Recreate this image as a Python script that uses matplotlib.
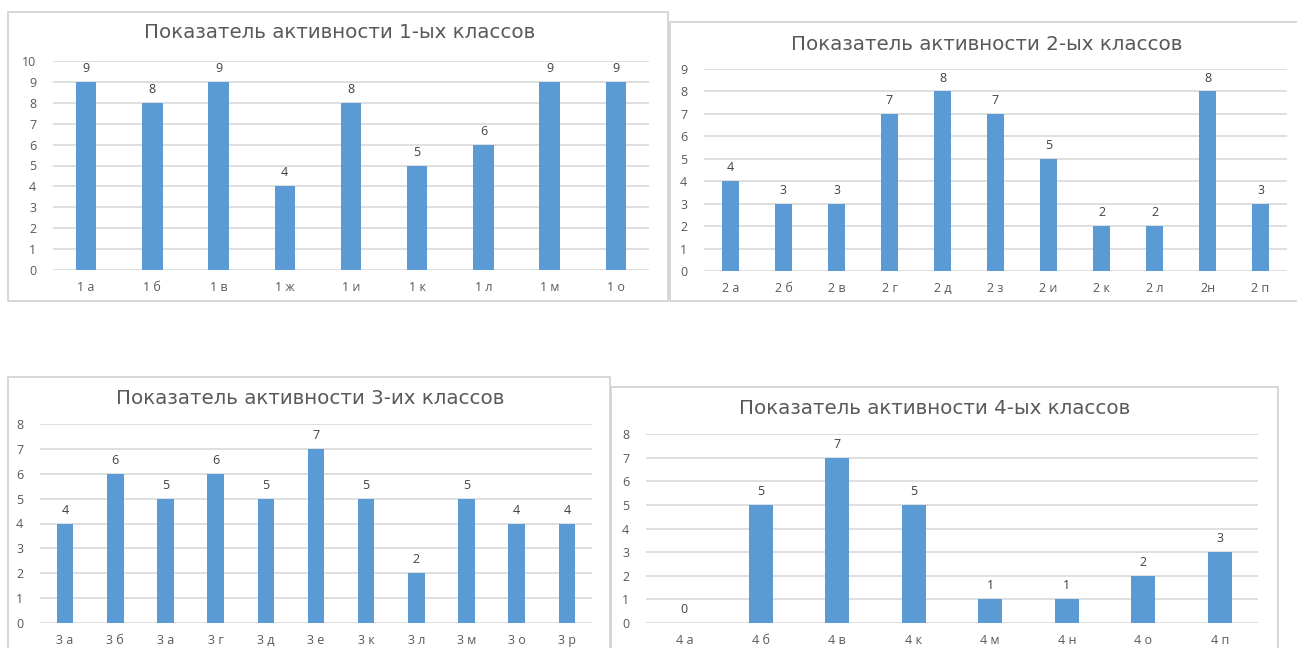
import matplotlib
matplotlib.use("Agg")
import matplotlib.pyplot as plt
from matplotlib.patches import Rectangle

plt.rcParams['font.family'] = ['Open Sans', 'DejaVu Sans']

# ---- data ----
title1 = "Показатель активности 1-ых классов"
cats1 = ["1 а", "1 б", "1 в", "1 ж", "1 и", "1 к", "1 л", "1 м", "1 о"]
vals1 = [9, 8, 9, 4, 8, 5, 6, 9, 9]

title2 = "Показатель активности 2-ых классов"
cats2 = ["2 а", "2 б", "2 в", "2 г", "2 д", "2 з", "2 и", "2 к", "2 л", "2н", "2 п"]
vals2 = [4, 3, 3, 7, 8, 7, 5, 2, 2, 8, 3]

title3 = "Показатель активности 3-их классов"
cats3 = ["3 а", "3 б", "3 а", "3 г", "3 д", "3 е", "3 к", "3 л", "3 м", "3 о", "3 р"]
vals3 = [4, 6, 5, 6, 5, 7, 5, 2, 5, 4, 4]

title4 = "Показатель активности 4-ых классов"
cats4 = ["4 а", "4 б", "4 в", "4 к", "4 м", "4 н", "4 о", "4 п"]
vals4 = [0, 5, 7, 5, 1, 1, 2, 3]

W, H = 1297, 648
fig = plt.figure(figsize=(W / 100, H / 100), dpi=100)
fig.patch.set_facecolor("white")

BAR = "#5B9BD5"
GRID = "#D9D9D9"
TXT = "#595959"


def px_rect(x0, y0, x1, y1):
    return [x0 / W, 1 - y1 / H, (x1 - x0) / W, (y1 - y0) / H]


def chart(border, plot, ymax, cats, vals, title, title_xy, bw):
    bx0, by0, bx1, by1 = border
    fig.patches.append(Rectangle((bx0 / W, 1 - by1 / H), (bx1 - bx0) / W, (by1 - by0) / H,
                                 transform=fig.transFigure, fill=False,
                                 edgecolor="#D0D0D0", linewidth=1.2, zorder=0))
    ax = fig.add_axes(px_rect(*plot))
    x = list(range(len(cats)))
    bars = ax.bar(x, vals, width=bw, color=BAR, zorder=3)
    ax.set_ylim(0, ymax)
    ax.set_xlim(-0.5, len(cats) - 0.5)
    ax.set_yticks(range(0, ymax + 1))
    ax.set_xticks(x)
    ax.set_xticklabels(cats)
    ax.yaxis.grid(True, color=GRID, linewidth=1.2, zorder=0)
    for s in ax.spines.values():
        s.set_visible(False)
    ax.tick_params(axis="both", length=0, colors=TXT, labelsize=9)
    ax.tick_params(axis="y", pad=12)
    ax.tick_params(axis="x", pad=8)
    ax.set_facecolor("none")
    for b, v in zip(bars, vals):
        ax.annotate(str(v), (b.get_x() + b.get_width() / 2, v), xytext=(0, 5),
                    textcoords="offset points", ha="center", va="bottom",
                    fontsize=9, color="#404040")
    fig.text(title_xy[0] / W, 1 - title_xy[1] / H, title, ha="center", va="center",
             fontsize=14.3, color=TXT, family="DejaVu Sans")
    return ax


chart((8, 12, 668, 301), (53, 61, 649, 270), 10, cats1, vals1, title1, (340, 33), 0.31)
chart((670, 22, 1300, 301), (704, 69, 1287, 271), 9, cats2, vals2, title2, (987, 44), 0.33)
chart((8, 377, 610, 660), (40, 424, 592, 623), 8, cats3, vals3, title3, (310, 399), 0.33)
chart((611, 387, 1278, 660), (646, 434, 1258, 623), 8, cats4, vals4, title4, (935, 409), 0.31)

fig.savefig("out.png", dpi=100, facecolor="white")
